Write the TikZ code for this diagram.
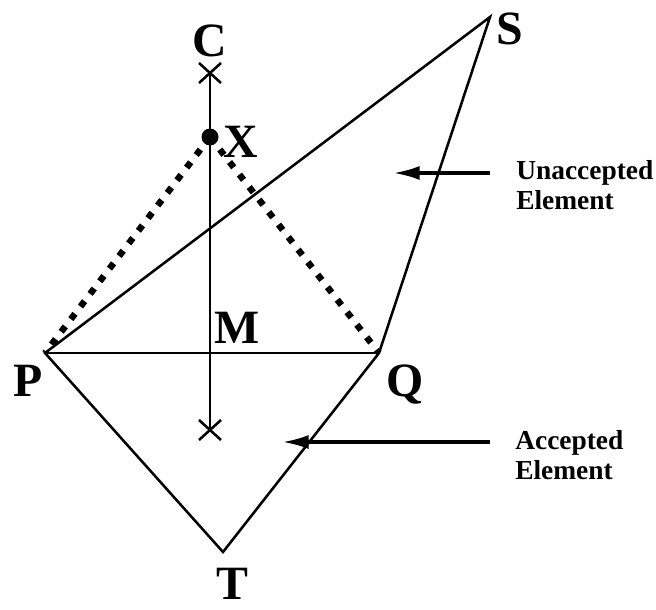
\documentclass[tikz,border=0pt]{standalone}
\usepackage{fontspec}
\setmainfont{Liberation Serif}
\usetikzlibrary{arrows.meta}

\begin{document}
\begin{tikzpicture}[x=0.025cm, y=-0.025cm,
  edge/.style={line width=1.8pt, line join=miter},
  dotline/.style={line width=4.6pt, dash pattern=on 4.8pt off 6.5pt},
  pointer/.style={line width=2.6pt, -{Latex[length=19pt, width=10pt]}},
  vlabel/.style={font=\fontsize{34}{34}\selectfont\bfseries, anchor=base, inner sep=0pt},
  note/.style={font=\fontsize{19.5}{21}\selectfont\bfseries, align=left,
    anchor=west, inner sep=0pt}]
  \useasboundingbox (0,0) rectangle (656,610);
  % Corners of the two elements
  \coordinate (P) at (45,353);
  \coordinate (Q) at (379,353);
  \coordinate (S) at (490,17);
  \coordinate (T) at (223,552);
  % Centre line through M
  \coordinate (C) at (210,73);
  \coordinate (B) at (210,430);
  \coordinate (X) at (210,137);
  % Elements
  \draw[edge] (P) -- (S) -- (Q) -- (T) -- cycle;
  \draw[edge] (P) -- (Q);
  \draw[edge] (C) -- (B);
  \foreach \c in {C,B}
    \draw[edge] (\c) +(-11,-10) -- +(11,10) (\c) +(-11,10) -- +(11,-10);
  % Candidate point X
  \draw[dotline] (X) -- (P);
  \draw[dotline] (X) -- (Q);
  \fill (X) circle (8.5);
  % Labels
  \node[vlabel] (lC) at (210,57) {C};
  \node[vlabel] (lX) at (241,157) {X};
  \node[vlabel] (lM) at (237,343) {M};
  \node[vlabel] (lP) at (28,396) {P};
  \node[vlabel] (lQ) at (405,396) {Q};
  \node[vlabel] (lS) at (510,45) {S};
  \node[vlabel] (lT) at (232,599) {T};
  % Notes with arrows
  \node[note] (unacc) at (516,185) {Unaccepted\\Element};
  \node[note] (acc) at (515,455) {Accepted\\Element};
  \coordinate (ut) at (490,173);
  \coordinate (uh) at (393,173);
  \coordinate (at) at (490,442);
  \coordinate (ah) at (282,442);
  \draw[pointer] (ut) -- (uh);
  \draw[pointer] (at) -- (ah);
\end{tikzpicture}
\end{document}
